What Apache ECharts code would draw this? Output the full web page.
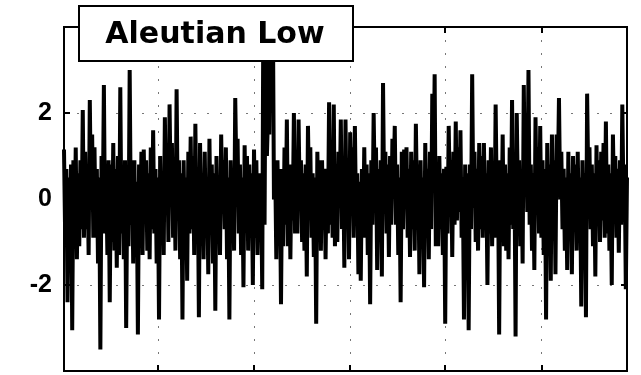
<!DOCTYPE html>
<html>
<head>
<meta charset="utf-8">
<script src="https://cdn.jsdelivr.net/npm/echarts@6/dist/echarts.min.js"></script>
<style>
  html, body { margin: 0; padding: 0; background: #fff; }
  #chart { width: 641px; height: 375px; }
</style>
</head>
<body>
<div id="chart"></div>
<script>
// index values (alternating highs and lows)
const values = [
  1.15, -0.9, 0.7, -2.4, 0.5, -1.2, 0.8, -3.05, 0.9, -1.1, 1.2, -1.4, 0.6, -1.1, 0.9, -0.7, 2.07, -0.9, 1.1, -0.7,
  0.6, -1.3, 2.3, -0.1, 1.5, -0.9, 1.2, -0.9, 0.7, -1.5, 0.5, -3.5, 1.0, -0.5, 2.65, -0.8, 0.4, -1.3, 0.9, -2.4,
  0.8, -1.0, 1.3, -1.2, 0.7, -1.6, 1.0, -1.3, 2.6, -0.8, 0.6, -1.4, 0.9, -3.0, 0.5, -1.1, 3.0, -0.6, 0.8, -1.5,
  0.9, -1.2, 0.4, -3.15, 0.8, -0.9, 1.1, -1.3, 1.15, -0.5, 0.9, -1.2, 0.6, -1.4, 1.2, -0.7, 1.6, -0.8, 0.7, -1.5,
  0.5, -2.8, 1.0, -0.9, 0.6, -1.3, 1.9, -0.2, 1.2, -1.0, 2.2, 0.1, 1.3, -0.9, 0.8, -1.2, 2.55, -0.3, 0.9, -1.4,
  0.6, -2.8, 0.9, -1.1, 0.5, -1.9, 1.1, -0.8, 1.45, -0.7, 1.0, -1.3, 1.75, -0.6, 0.7, -2.75, 1.3, -0.6, 0.6, -1.4,
  1.1, -0.9, 0.5, -1.75, 1.4, -0.8, 0.8, -1.5, 0.6, -2.6, 1.0, -0.9, 0.5, -1.3, 1.5, -0.2, 0.9, -0.7, 1.2, -1.4,
  0.5, -2.8, 0.9, -0.6, 0.7, -1.2, 2.35, 0.5, 1.4, -0.8, 0.8, -1.3, 0.5, -2.05, 1.25, -0.7, 1.0, -1.2, 0.8, -0.9,
  0.6, -2.0, 1.15, -0.9, 0.9, -1.3, 0.6, -1.0, 0.5, -2.1, 4.8, -0.6, 4.8, 1.0, 2.0, 1.5, 4.8, 2.5, 4.8, 0.0,
  0.9, -1.4, 0.9, -0.7, 0.7, -2.45, 0.7, -1.1, 1.2, -0.6, 1.85, -1.1, 0.8, -1.4, 0.8, -0.5, 2.0, -0.8, 1.0, -0.8,
  1.85, -0.1, 0.9, -1.0, 0.6, -1.2, 0.8, -1.8, 1.7, 0.0, 1.2, -0.9, 0.6, -1.35, 0.5, -2.9, 1.1, -0.5, 0.9, -1.2,
  0.9, -0.7, 0.7, -1.4, 0.7, -0.8, 2.25, -0.6, 1.2, -0.9, 2.2, -1.1, 0.8, -1.0, 1.1, -0.2, 1.85, -0.7, 0.9, -1.6,
  1.85, -0.6, 0.8, -1.4, 1.55, -0.1, 1.2, -0.9, 1.7, -0.5, 0.6, -1.75, 0.4, -1.9, 0.7, -0.9, 1.2, -0.9, 0.8, -1.3,
  0.6, -2.45, 0.9, -0.6, 2.0, 0.1, 1.2, -1.65, 0.7, -0.8, 0.9, -1.8, 2.7, -0.1, 1.1, -0.8, 0.8, -1.35, 1.0, -0.6,
  1.4, 0.3, 1.7, -0.6, 0.8, -1.3, 0.5, -2.4, 1.1, -0.7, 1.15, 0.0, 1.2, -0.9, 0.7, -1.35, 1.1, -0.7, 0.9, -1.2,
  1.75, -0.2, 0.8, -1.75, 0.9, -1.0, 0.5, -2.05, 1.3, -0.6, 0.7, -1.4, 1.1, -0.7, 2.45, 0.2, 2.9, -1.1, 0.8, -1.1,
  1.0, -0.7, 0.6, -1.3, 0.7, -2.9, 0.75, -0.8, 1.7, -0.1, 0.9, -1.35, 1.1, -0.6, 1.8, -0.5, 1.2, -0.3, 1.6, -0.9,
  0.5, -2.8, 0.8, -1.2, 0.6, -3.05, 0.8, -0.7, 2.9, -0.2, 1.1, -1.0, 0.7, -1.2, 1.3, -0.7, 1.0, -0.9, 1.3, -0.5,
  0.6, -2.0, 0.9, -0.8, 1.2, -1.1, 0.7, -0.9, 2.2, -0.1, 0.7, -3.15, 0.9, -0.7, 1.5, -1.1, 0.8, -1.2, 0.6, -1.4,
  1.2, -0.6, 2.3, -0.7, 0.9, -3.2, 2.0, 0.0, 0.9, -1.1, 0.7, -1.5, 2.65, 0.2, 1.4, -0.3, 3.0, -0.6, 0.8, -1.2,
  0.6, -1.65, 1.9, -0.2, 1.2, -0.8, 1.7, -0.9, 0.9, -1.3, 0.7, -2.8, 1.3, -0.7, 0.8, -1.9, 1.5, -0.6, 0.9, -1.75,
  1.5, 0.4, 2.35, 0.0, 1.1, -0.7, 0.7, -1.2, 0.5, -1.65, 1.1, -0.9, 0.6, -1.75, 1.0, -0.6, 0.8, -1.2, 1.1, -0.8,
  0.5, -2.5, 0.9, -0.9, 0.6, -2.75, 2.45, 0.4, 1.2, -0.7, 0.8, -1.1, 0.6, -1.8, 1.25, -0.6, 0.9, -1.0, 1.1, -0.5,
  1.3, -0.9, 1.8, -0.8, 0.8, -1.2, 0.6, -2.0, 1.5, -0.1, 1.0, -0.9, 0.7, -1.25, 0.9, -0.6, 2.2, 0.0, 0.8, -2.1,
  0.5
]
const gridTicks = [80, 162, 244, 325, 407]
const yLabels = [-2, 0, 2]
const title = 'Aleutian Low'

const steps = values.map((v, i) => i)
const onGrid = (i) => gridTicks.includes(i)

const chart = echarts.init(document.getElementById('chart'))

const dotted = { color: '#777', width: 1, type: [2, 11] }
const blackTick = { inside: true, length: 6, lineStyle: { color: '#000', width: 2 } }

chart.setOption({
  animation: false,
  grid: {
    left: 64,
    right: 14,
    top: 27,
    bottom: 4,
    show: true,
    borderColor: '#000',
    borderWidth: 2,
  },
  xAxis: [
    {
      type: 'category',
      data: steps,
      boundaryGap: false,
      axisLine: { onZero: false, lineStyle: { color: '#000', width: 2 } },
      axisTick: { ...blackTick, interval: onGrid },
      axisLabel: { show: false },
      splitLine: { show: true, interval: onGrid, lineStyle: dotted },
    },
    {
      type: 'category',
      data: steps,
      position: 'top',
      boundaryGap: false,
      axisLine: { onZero: false, lineStyle: { color: '#000', width: 2 } },
      axisTick: { ...blackTick, interval: onGrid },
      axisLabel: { show: false },
      splitLine: { show: false },
    },
  ],
  yAxis: [
    {
      type: 'value',
      min: -4,
      max: 4,
      interval: 2,
      axisLine: { show: true, lineStyle: { color: '#000', width: 2 } },
      axisTick: { show: true, ...blackTick },
      axisLabel: {
        margin: 12,
        color: '#000',
        fontFamily: '"Liberation Sans", Arial, sans-serif',
        fontWeight: 'bold',
        fontSize: 25,
        formatter: (v) => (yLabels.includes(v) ? String(v) : ''),
      },
      splitLine: { show: true, lineStyle: dotted },
    },
    {
      type: 'value',
      min: -4,
      max: 4,
      interval: 2,
      position: 'right',
      axisLine: { show: true, lineStyle: { color: '#000', width: 2 } },
      axisTick: { show: true, ...blackTick },
      axisLabel: { show: false },
      splitLine: { show: false },
    },
  ],
  series: [
    {
      type: 'line',
      data: values,
      showSymbol: false,
      sampling: false,
      lineStyle: { color: '#000', width: 4 },
      z: 3,
    },
  ],
  graphic: [
    {
      type: 'rect',
      left: 78,
      top: 5,
      shape: { width: 274, height: 55 },
      style: { fill: '#fff', stroke: '#000', lineWidth: 2 },
      z: 100,
    },
    {
      type: 'text',
      x: 215,
      y: 35,
      style: {
        text: title,
        font: 'bold 30px "DejaVu Sans", sans-serif',
        fill: '#000',
        textAlign: 'center',
        textVerticalAlign: 'middle',
      },
      z: 101,
    },
  ],
})
</script>
</body>
</html>
